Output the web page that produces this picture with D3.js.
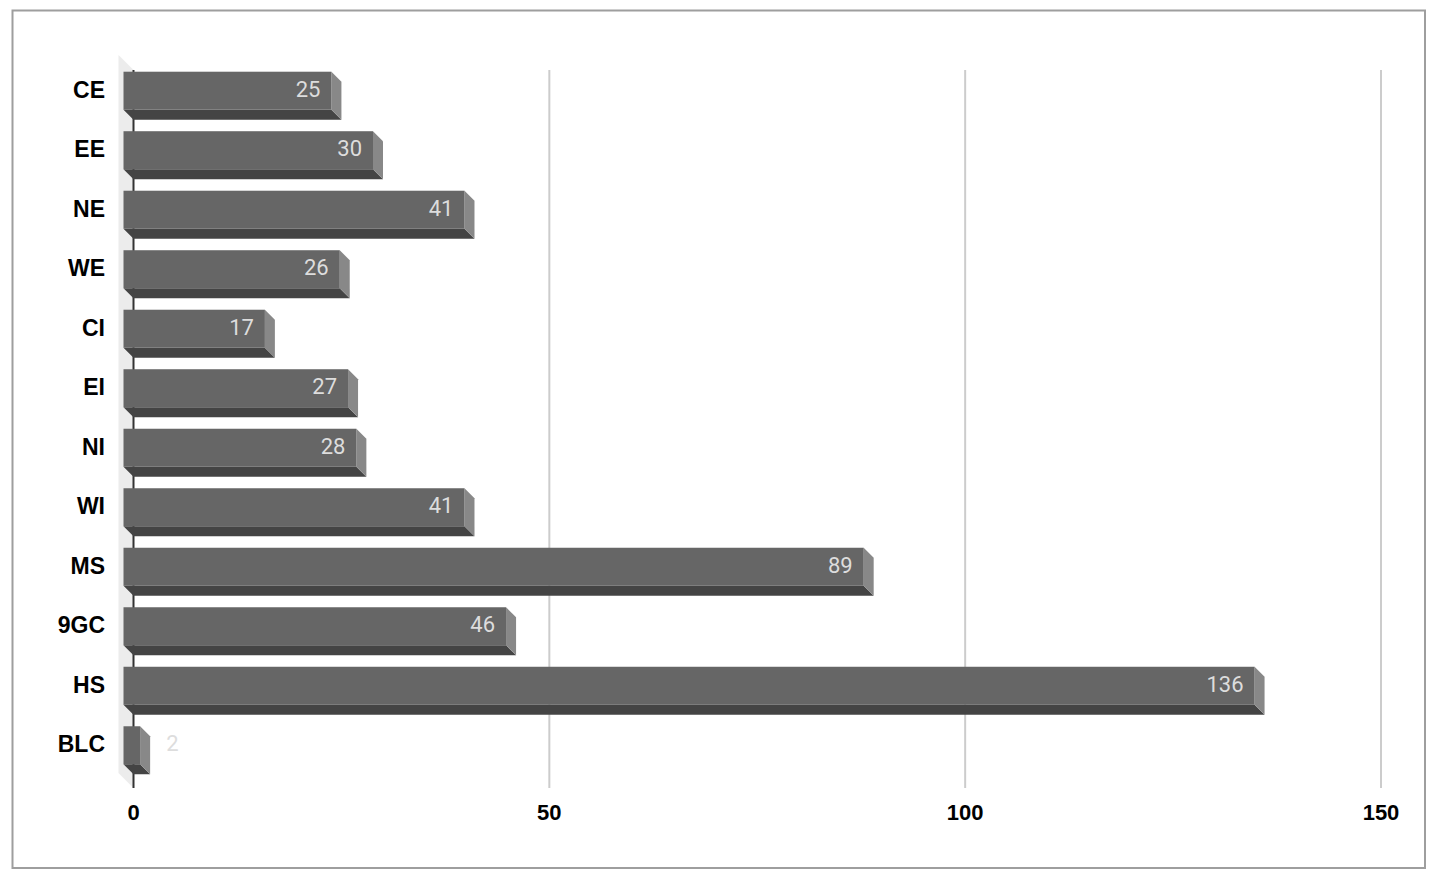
<!DOCTYPE html>
<html>
<head>
<meta charset="utf-8">
<script src="https://cdn.jsdelivr.net/npm/d3@7"></script>
<style>
    html, body { margin: 0; padding: 0; background: #fff; }
    #chart { width: 1438px; height: 884px; }
</style>
</head>
<body>
<div id="chart"></div>
<script>
// Horizontal 3D-style bar chart (counts per category)

const categories = ['CE', 'EE', 'NE', 'WE', 'CI', 'EI', 'NI', 'WI', 'MS', '9GC', 'HS', 'BLC'];
const values = [25, 30, 41, 26, 17, 27, 28, 41, 89, 46, 136, 2];
const xTicks = [0, 50, 100, 150];

const W = 1438;
const H = 884;

// plot area (back plane), depth offsets for the fake 3D
const plot = { left: 133.5, right: 1381, top: 71, bottom: 785 };
const barDepth = 10;
const wallDepth = 15;

const svg = d3.select('#chart')
    .append('svg')
    .attr('width', W)
    .attr('height', H);

// outer frame
svg.append('rect')
    .attr('x', 12.5)
    .attr('y', 10.5)
    .attr('width', 1412.5)
    .attr('height', 857.5)
    .attr('fill', 'none')
    .attr('stroke', '#9e9e9e')
    .attr('stroke-width', 2);

const x = d3.scaleLinear()
    .domain([0, 150])
    .range([plot.left, plot.right]);

const y = d3.scaleBand()
    .domain(categories)
    .range([plot.top, plot.bottom])
    .paddingInner(0.361)
    .paddingOuter(0.18);

const axisTop = 70;
const axisBottom = 788;

// left wall
svg.append('path')
    .attr('d', `M${x(0) - wallDepth},${axisTop - wallDepth} L${x(0)},${axisTop} L${x(0)},${axisBottom} L${x(0) - wallDepth},${axisBottom - wallDepth} Z`)
    .attr('fill', '#ececec');

// grid lines
xTicks.filter(t => t > 0).forEach(t => {
    svg.append('line')
        .attr('x1', x(t))
        .attr('x2', x(t))
        .attr('y1', axisTop)
        .attr('y2', axisBottom)
        .attr('stroke', '#cccccc')
        .attr('stroke-width', 2);
});

// zero axis line
svg.append('line')
    .attr('x1', x(0))
    .attr('x2', x(0))
    .attr('y1', axisTop)
    .attr('y2', axisBottom)
    .attr('stroke', '#333333')
    .attr('stroke-width', 2);

// tick labels
svg.selectAll('.tick-label')
    .data(xTicks)
    .enter()
    .append('text')
    .attr('x', d => x(d))
    .attr('y', 820)
    .attr('text-anchor', 'middle')
    .attr('font-family', '"Liberation Sans", Arial, sans-serif')
    .attr('font-size', '22px')
    .attr('font-weight', 'bold')
    .attr('fill', '#000')
    .text(d => d);

const bh = y.bandwidth();

categories.forEach((cat, i) => {
    const v = values[i];
    const x0 = x(0);
    const x1 = x(v);
    const yb = y(cat);           // back top
    const fx0 = x0 - barDepth;   // front face
    const fx1 = x1 - barDepth;
    const fy = yb - barDepth;

    // bottom face
    svg.append('path')
        .attr('d', `M${fx0},${fy + bh} L${fx1},${fy + bh} L${x1},${yb + bh} L${x0},${yb + bh} Z`)
        .attr('fill', '#444444');

    // right side face
    svg.append('path')
        .attr('d', `M${fx1},${fy} L${x1},${yb} L${x1},${yb + bh} L${fx1},${fy + bh} Z`)
        .attr('fill', '#888888');

    // front face
    svg.append('rect')
        .attr('x', fx0)
        .attr('y', fy)
        .attr('width', fx1 - fx0)
        .attr('height', bh)
        .attr('fill', '#666666');

    const cy = fy + bh / 2;

    // category label
    svg.append('text')
        .attr('x', 105)
        .attr('y', cy + 7)
        .attr('text-anchor', 'end')
        .attr('font-family', '"Liberation Sans", Arial, sans-serif')
        .attr('font-size', '23px')
        .attr('font-weight', 'bold')
        .attr('fill', '#000')
        .text(cat);

    // value label: inside the bar if it fits, otherwise just after it
    const inside = (fx1 - fx0) > 50;
    svg.append('text')
        .attr('x', inside ? fx1 - 11 : x1 + 16)
        .attr('y', cy + 6)
        .attr('text-anchor', inside ? 'end' : 'start')
        .attr('font-family', 'Roboto, "Noto Sans", sans-serif')
        .attr('font-size', '22px')
        .attr('fill', '#dddddd')
        .text(v);
});
</script>
</body>
</html>
